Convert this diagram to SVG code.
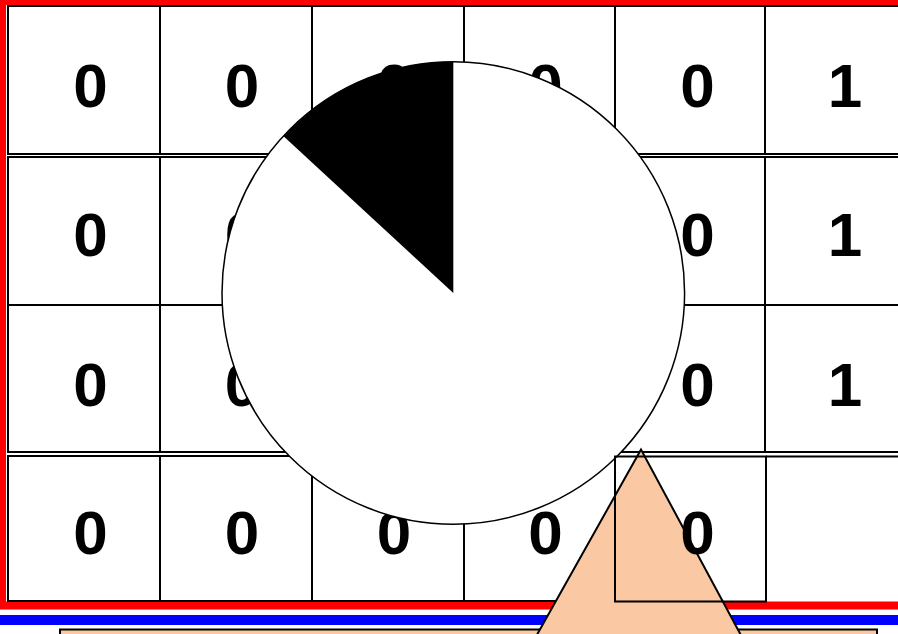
<svg xmlns="http://www.w3.org/2000/svg" width="898" height="634" viewBox="0 0 898 634">
<style>
.cell{fill:#fff;stroke:#000;stroke-width:2}
.open{fill:none;stroke:#000;stroke-width:2}
.t{font-family:"Liberation Sans",Arial,sans-serif;font-weight:bold;font-size:62px;text-anchor:middle;fill:#000}
.peach{fill:#FAC8A2;stroke:#000;stroke-width:2}
</style>
<rect width="898" height="634" fill="#fff"/>
<g id="frame">
<rect x="0" y="0" width="6" height="609" fill="#f00"/>
<rect x="0" y="0" width="898" height="5" fill="#f00"/>
<rect x="0" y="601.5" width="898" height="8" fill="#f00"/>
<rect x="0" y="615" width="898" height="10" fill="#00f"/>
</g>
<g id="base"><rect class="peach" x="60" y="629.5" width="817" height="20"/></g>
<g id="grid">
<g id="r1">
<rect class="cell" x="8" y="6" width="152" height="148"/>
<rect class="cell" x="160" y="6" width="152" height="148"/>
<rect class="cell" x="312" y="6" width="152" height="148"/>
<rect class="cell" x="464" y="6" width="151" height="148"/>
<rect class="cell" x="615" y="6" width="151" height="148"/>
<rect class="cell" x="765" y="6" width="160" height="148"/>
<text class="t" x="90.5" y="107">0</text>
<text class="t" x="242" y="107">0</text>
<text class="t" x="394" y="107">0</text>
<text class="t" x="545.5" y="107">0</text>
<text class="t" x="697.5" y="107">0</text>
<text class="t" x="845" y="107">1</text>
</g>
<g id="r2">
<rect class="cell" x="8" y="157" width="152" height="148"/>
<rect class="cell" x="160" y="157" width="152" height="148"/>
<rect class="cell" x="312" y="157" width="152" height="148"/>
<rect class="cell" x="464" y="157" width="151" height="148"/>
<rect class="cell" x="615" y="157" width="151" height="148"/>
<rect class="cell" x="765" y="157" width="160" height="148"/>
<text class="t" x="90.5" y="256">0</text>
<text class="t" x="242" y="256">0</text>
<text class="t" x="394" y="256">0</text>
<text class="t" x="545.5" y="256">0</text>
<text class="t" x="697.5" y="256">0</text>
<text class="t" x="845" y="256">1</text>
</g>
<g id="r3">
<rect class="cell" x="8" y="305" width="152" height="147"/>
<rect class="cell" x="160" y="305" width="152" height="147"/>
<rect class="cell" x="312" y="305" width="152" height="147"/>
<rect class="cell" x="464" y="305" width="151" height="147"/>
<rect class="cell" x="615" y="305" width="151" height="147"/>
<rect class="cell" x="765" y="305" width="160" height="147"/>
<text class="t" x="90.5" y="406">0</text>
<text class="t" x="242" y="406">0</text>
<text class="t" x="394" y="406">0</text>
<text class="t" x="545.5" y="406">0</text>
<text class="t" x="697.5" y="406">0</text>
<text class="t" x="845" y="406">1</text>
</g>
<g id="r4">
<rect class="cell" x="8" y="456" width="152" height="145"/>
<rect class="cell" x="160" y="456" width="152" height="145"/>
<rect class="cell" x="312" y="456" width="152" height="145"/>
<rect class="cell" x="464" y="456" width="151" height="145"/>
<line x1="766" y1="456.5" x2="898" y2="456.5" stroke="#000" stroke-width="2"/>
<text class="t" x="90.5" y="554">0</text>
<text class="t" x="242" y="554">0</text>
<text class="t" x="394" y="554">0</text>
<text class="t" x="545.5" y="554">0</text>
</g>
</g>
<g id="pie">
<circle cx="453.3" cy="293" r="231.3" fill="#fff" stroke="#000" stroke-width="1.5"/>
<path d="M453.3,293 L453.3,61.7 A231.3,231.3 0 0 0 283.3,136 Z" fill="#000"/>
</g>
<g id="triangle"><polygon class="peach" points="641,449.5 520,665 757,665"/></g>
<g id="r4c5">
<rect class="open" x="615" y="456.5" width="151" height="145"/>
<text class="t" x="697.5" y="554">0</text>
</g>
</svg>
